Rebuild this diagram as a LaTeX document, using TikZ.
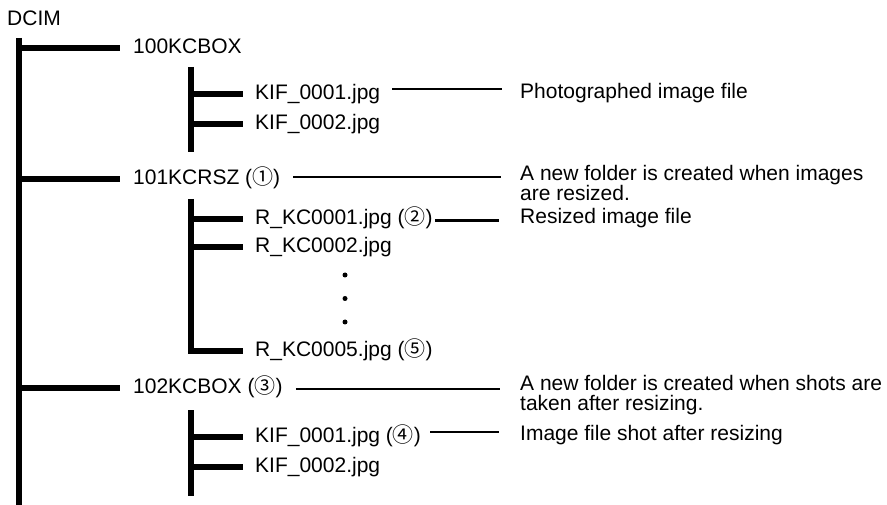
\documentclass[tikz,border=0pt]{standalone}
\usepackage{fontspec}
\setmainfont{Liberation Sans}
\newfontfamily\cjkfont{Noto Sans CJK JP}
\newcommand\circnum[1]{{\cjkfont #1}}
\begin{document}
\begin{tikzpicture}[x=1pt,y=-1pt,
  tree/.style={line width=6pt},
  conn/.style={line width=2.8pt},
  lbl/.style={anchor=base west, inner sep=0pt, font=\fontsize{21}{18}\selectfont, text height=15pt, text depth=4pt},
  desc/.style={anchor=base west, inner sep=0pt, font=\fontsize{21}{20}\selectfont, align=left},
  dot/.style={circle, fill, inner sep=0pt, minimum size=5pt}]
\useasboundingbox (0,0) rectangle (887,505);
% labels
\node[lbl] (dcim) at (7,26) {DCIM};
\node[lbl] (f100) at (133,53.8) {100KCBOX};
\node[lbl] (k1) at (255,99.8) {KIF\_0001.jpg};
\node[lbl] (k2) at (255,129.8) {KIF\_0002.jpg};
\node[lbl] (f101) at (133,184.5) {101KCRSZ (\circnum{①})};
\node[lbl] (r1) at (255,224.8) {R\_KC0001.jpg (\circnum{②})};
\node[lbl] (r2) at (255,252.2) {R\_KC0002.jpg};
\node[lbl] (r5) at (255,356.5) {R\_KC0005.jpg (\circnum{⑤})};
\node[lbl] (f102) at (133,393.5) {102KCBOX (\circnum{③})};
\node[lbl] (k4) at (255,442.5) {KIF\_0001.jpg (\circnum{④})};
\node[lbl] (k5) at (255,472.5) {KIF\_0002.jpg};
\node[dot] (dt1) at (345,275) {};
\node[dot] (dt2) at (345,298.5) {};
\node[dot] (dt3) at (345,322) {};
% descriptions (base anchor = last line)
\node[desc] (d1) at (520,98.5) {Photographed image file};
\node[desc] (d2) at (520,201) {A new folder is created when images\\are resized.};
\node[desc] (d3) at (520,224) {Resized image file};
\node[desc] (d4) at (520,410) {A new folder is created when shots are\\taken after resizing.};
\node[desc] (d5) at (520,440) {Image file shot after resizing};
% tree
\coordinate (trunktop) at (19,38);
\coordinate (trunkbot) at (19,505);
\coordinate (trunk) at (19,0);
\coordinate (sub) at (191,0);
\draw[tree] (trunktop) -- (trunkbot);
\foreach \n in {f100,f101,f102}
  \draw[tree] (\n.west -| trunk) -- ([xshift=-13pt]\n.west);
\coordinate (s1top) at (191,67);
\coordinate (s1bot) at (191,152);
\draw[tree] (s1top) -- (s1bot);
\coordinate (s2top) at (191,199);
\draw[tree] (s2top) -- ([yshift=-3pt]r5.west -| sub);
\coordinate (s3top) at (191,410);
\coordinate (s3bot) at (191,496);
\draw[tree] (s3top) -- (s3bot);
\foreach \n in {k1,k2,r1,r2,r5,k4,k5}
  \draw[tree] ([xshift=-3pt]\n.west -| sub) -- ([xshift=-12pt]\n.west);
% connectors
\coordinate (c1) at ([xshift=12pt,yshift=5.3pt]k1.east);
\draw[conn] (c1) -- ([xshift=-18pt]c1 -| d1.west);
\coordinate (c2) at ([xshift=13pt,yshift=2pt]f101.east);
\draw[conn] (c2) -- ([xshift=-19pt]c2 -| d2.west);
\coordinate (c3) at ([xshift=2pt,yshift=-1pt]r1.east);
\draw[conn] (c3) -- ([xshift=-21pt]c3 -| d3.west);
\coordinate (c4) at ([xshift=13pt,yshift=-1pt]f102.east);
\draw[conn] (c4) -- ([xshift=-20pt]c4 -| d4.west);
\coordinate (c5) at ([xshift=9pt,yshift=5pt]k4.east);
\draw[conn] (c5) -- ([xshift=-21pt]c5 -| d5.west);
\end{tikzpicture}
\end{document}
